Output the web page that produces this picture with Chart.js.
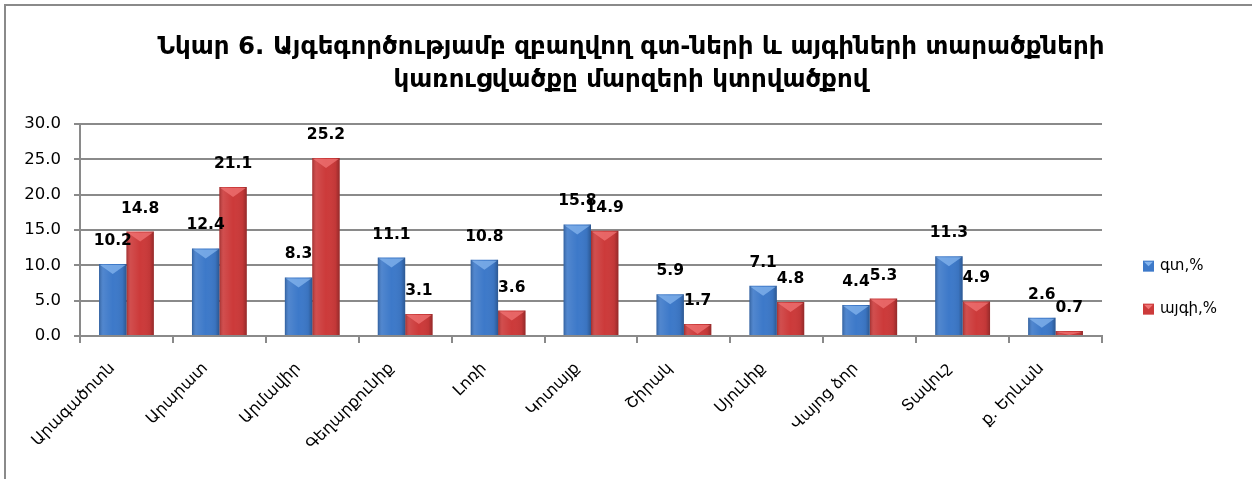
<!DOCTYPE html>
<html>
<head>
<meta charset="utf-8">
<script src="https://cdn.jsdelivr.net/npm/chart.js@4/dist/chart.umd.min.js"></script>
<style>
  html, body { margin: 0; padding: 0; background: #ffffff; }
  #wrap { position: relative; width: 1252px; height: 479px; overflow: hidden; }
  #frame { position: absolute; left: 4px; top: 4px; width: 1300px; height: 600px; border: 2px solid #8a8a8a; }
  canvas { position: absolute; left: 0; top: 0; }
</style>
</head>
<body>
<div id="wrap">
  <div id="frame"></div>
  <canvas id="c" width="1252" height="479"></canvas>
</div>
<script>
const titleLines = ["Նկար 6. Այգեգործությամբ զբաղվող գտ-ների և այգիների տարածքների", "կառուցվածքը մարզերի կտրվածքով"];
const categories = ["Արագածոտն", "Արարատ", "Արմավիր", "Գեղարքունիք", "Լոռի", "Կոտայք", "Շիրակ", "Սյունիք", "Վայոց ձոր", "Տավուշ", "ք. Երևան"];
const seriesNames = ["գտ,%", "այգի,%"];
const gtValues = [10.2, 12.4, 8.3, 11.1, 10.8, 15.8, 5.9, 7.1, 4.4, 11.3, 2.6];
const aygiValues = [14.8, 21.1, 25.2, 3.1, 3.6, 14.9, 1.7, 4.8, 5.3, 4.9, 0.7];
const yTicks = [0, 5, 10, 15, 20, 25, 30];

const FONT = "'DejaVu Sans', sans-serif";
const colors = ["#3d79c9", "#cc3a3a"];
const lightColors = ["#85b5ee", "#f07474"];

const barDecor = {
  id: 'barDecor',
  afterDatasetsDraw(chart) {
    const ctx = chart.ctx;
    chart.data.datasets.forEach((ds, di) => {
      const meta = chart.getDatasetMeta(di);
      meta.data.forEach((bar) => {
        const p = bar.getProps(['x', 'y', 'base', 'width'], true);
        const l = p.x - p.width / 2, r = p.x + p.width / 2;
        const t = p.y, b = p.base;
        ctx.save();
        const g = ctx.createLinearGradient(l, 0, r, 0);
        g.addColorStop(0, 'rgba(0,0,0,0.22)');
        g.addColorStop(0.15, 'rgba(255,255,255,0.10)');
        g.addColorStop(0.5, 'rgba(255,255,255,0.0)');
        g.addColorStop(0.85, 'rgba(0,0,0,0.05)');
        g.addColorStop(1, 'rgba(0,0,0,0.28)');
        ctx.fillStyle = g;
        ctx.fillRect(l, t, r - l, b - t);
        const h = Math.min(10, (b - t));
        if (h > 2) {
          ctx.fillStyle = lightColors[di];
          ctx.globalAlpha = 0.75;
          ctx.beginPath();
          ctx.moveTo(l + 1, t + 1);
          ctx.lineTo(r - 1, t + 1);
          ctx.lineTo(p.x, t + h);
          ctx.closePath();
          ctx.fill();
        }
        ctx.restore();
      });
    });
  }
};

const dataLabels = {
  id: 'dataLabels',
  afterDatasetsDraw(chart) {
    const ctx = chart.ctx;
    ctx.save();
    ctx.font = "bold 15.5px " + FONT;
    ctx.fillStyle = '#000';
    ctx.textAlign = 'center';
    ctx.textBaseline = 'middle';
    chart.data.datasets.forEach((ds, di) => {
      const meta = chart.getDatasetMeta(di);
      meta.data.forEach((bar, i) => {
        ctx.fillText(ds.data[i].toFixed(1), bar.x, bar.y - 23);
      });
    });
    ctx.restore();
  }
};

const sideLegend = {
  id: 'sideLegend',
  afterDraw(chart) {
    const ctx = chart.ctx;
    const area = chart.chartArea;
    const x0 = area.right + 41;
    const ys = [area.top + 142, area.top + 185];
    ctx.save();
    ctx.font = "15px " + FONT;
    ctx.textBaseline = 'middle';
    ctx.textAlign = 'left';
    chart.data.datasets.forEach((ds, di) => {
      const y = ys[di];
      ctx.fillStyle = colors[di];
      ctx.fillRect(x0, y - 5.5, 11, 11);
      ctx.fillStyle = lightColors[di];
      ctx.beginPath();
      ctx.moveTo(x0 + 1, y - 4.5);
      ctx.lineTo(x0 + 10, y - 4.5);
      ctx.lineTo(x0 + 5.5, y);
      ctx.closePath();
      ctx.fill();
      ctx.fillStyle = '#000';
      ctx.fillText(ds.label, x0 + 17, y);
    });
    ctx.restore();
  }
};

new Chart(document.getElementById('c'), {
  type: 'bar',
  data: {
    labels: categories,
    datasets: [
      { label: seriesNames[0], data: gtValues, backgroundColor: colors[0] },
      { label: seriesNames[1], data: aygiValues, backgroundColor: colors[1] }
    ]
  },
  options: {
    responsive: false,
    animation: false,
    events: [],
    layout: { padding: { left: 10, right: 0, top: 0, bottom: 13 } },
    datasets: { bar: { categoryPercentage: 0.59, barPercentage: 1.0 } },
    plugins: {
      legend: { display: false },
      tooltip: { enabled: false },
      title: {
        display: true,
        text: titleLines,
        color: '#000',
        font: { family: FONT, size: 24.5, weight: 'bold', lineHeight: 1.35 },
        padding: { top: 31, bottom: 27 }
      }
    },
    scales: {
      x: {
        grid: { display: true, drawOnChartArea: false, drawTicks: true, tickLength: 7, color: '#8a8a8a', lineWidth: 2, offset: true },
        border: { display: true, color: '#8a8a8a', width: 2 },
        ticks: { color: '#000', font: { family: FONT, size: 16 }, minRotation: 45, maxRotation: 45, autoSkip: false, padding: 16, labelOffset: -14 },
        afterFit: (s) => { s.height = 130; }
      },
      y: {
        min: 0, max: 30,
        afterBuildTicks: (s) => { s.ticks = yTicks.map(v => ({ value: v })); },
        grid: { color: '#8a8a8a', lineWidth: 2, drawTicks: true, tickLength: 6 },
        border: { display: true, color: '#8a8a8a', width: 2 },
        ticks: { color: '#000', font: { family: FONT, size: 16.5 }, padding: 13, callback: (v) => Number(v).toFixed(1) },
        afterFit: (s) => { s.width = 70; }
      },
      legendSpace: {
        type: 'linear',
        position: 'right',
        display: true,
        grid: { display: false, drawTicks: false },
        border: { display: false },
        ticks: { display: false },
        afterFit: (s) => { s.width = 150; }
      }
    }
  },
  plugins: [barDecor, dataLabels, sideLegend]
});
</script>
</body>
</html>
